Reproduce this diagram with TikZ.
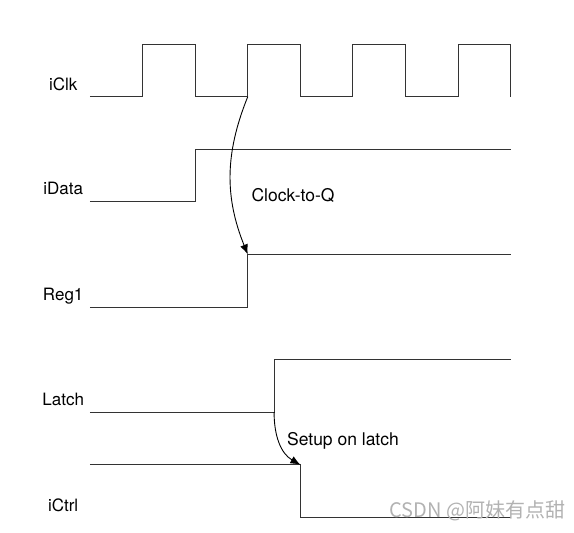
\documentclass[tikz,border=0pt]{standalone}
\usepackage{fontspec}
\setmainfont{TeX Gyre Heros}
\newfontfamily\cjk{Noto Sans CJK SC}
\usetikzlibrary{arrows.meta}
\tikzset{
  signal/.style = {draw=black!80, line width=1pt},
  delay/.style = {draw=black, line width=0.9pt,
    -{Latex[length=10pt,width=8pt]}},% fleche de delai
  sig_lbl/.style = {anchor=base, inner sep=0pt,
    font=\fontsize{17}{20}\selectfont},
  note_lbl/.style = {sig_lbl, font=\fontsize{17.5}{20}\selectfont},% texte du delai
  wmark/.style = {anchor=base east, inner sep=0pt, text=black!30,
    font=\cjk\fontsize{20}{23}\selectfont}
}

\begin{document}
\begin{tikzpicture}[x=52.6pt,y=-52.6pt]
    \useasboundingbox (-1.711,-0.837) rectangle (9.202,9.278);
    % noms des signaux
    \node [sig_lbl] (n_clk) at (-0.51,0.88) {iClk};
    \node [sig_lbl] (n_data) at (-0.51,2.87) {iData};
    \node [sig_lbl] (n_reg) at (-0.51,4.87) {Reg1};
    \node [sig_lbl] (n_latch) at (-0.51,6.88) {Latch};
    \node [sig_lbl] (n_ctrl) at (-0.51,8.89) {iCtrl};
    % chronogrammes
    \draw [signal] (0,1) \foreach \i in {1,3,5,7} {
        -- (\i,1) -- (\i,0) -- (\i+1,0) -- (\i+1,1) };
    \draw [signal] (0,3) -- (2,3) -- (2,2) -- (8,2);
    \draw [signal] (0,5) -- (3,5) -- (3,4) -- (8,4);
    \draw [signal] (0,7) -- (3.5,7) -- (3.5,6) -- (8,6);
    \draw [signal] (0,8) -- (4,8) -- (4,9) -- (8,9);
    % delais
    \coordinate (clk_edge) at (3,1);
    \coordinate (reg_edge) at (3,4);
    \coordinate (latch_edge) at (3.5,7);
    \coordinate (ctrl_edge) at (4,8);
    \draw [delay] (clk_edge) to[bend right=22] (reg_edge);
    \draw [delay] (latch_edge) to[out=-90,in=150] (ctrl_edge);
    \node [note_lbl] (t_cq) at (3.86,2.985) {Clock-to-Q};
    \node [note_lbl] (t_setup) at (4.81,7.64) {Setup on latch};
    \node [wmark] (wm) at (9.04,9.011) {CSDN @阿妹有点甜};
\end{tikzpicture}
\end{document}
